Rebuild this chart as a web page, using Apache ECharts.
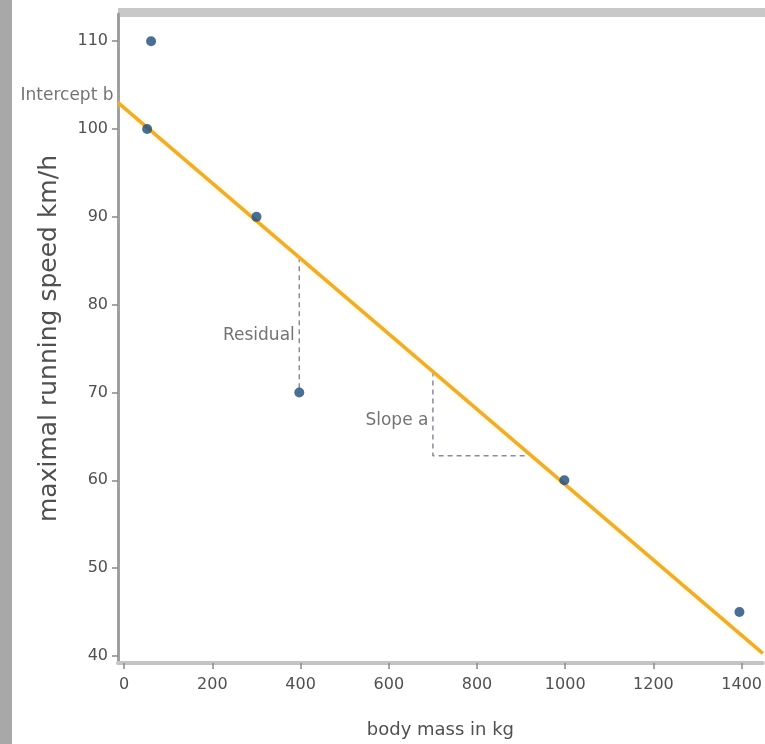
<!DOCTYPE html>
<html><head><meta charset="utf-8">
<script src="https://cdn.jsdelivr.net/npm/echarts@6/dist/echarts.min.js"></script>
<style>html,body{margin:0;padding:0;background:#fff}#c{width:765px;height:744px}</style>
</head><body><div id="c"></div>
<script>
const xTicks = [0, 200, 400, 600, 800, 1000, 1200, 1400];
const yTicks = [40, 50, 60, 70, 80, 90, 100, 110];
const points = [[61, 110], [52, 100], [300, 90], [397, 70], [998, 60], [1395, 45]];
const fitLine = [[-14, 103.0], [1448, 40.3]];
const residualLine = [[397, 85.4], [397, 70]];
const slopeLine = [[700, 72.4], [700, 62.8], [915, 62.8]];
const annotationNames = ['Intercept b', 'Residual', 'Slope a'];
const annotationPos = [[-14, 103.8], [397, 76.5], [700, 66.8]];

const font = 'DejaVu Sans';
const txt = '#505050';
const chart = echarts.init(document.getElementById('c'));
chart.setOption({
  animation: false,
  backgroundColor: '#fff',
  grid: { left: 118, right: 0, top: 14, bottom: 79, containLabel: false },
  graphic: [
    { type: 'rect', shape: { x: 0, y: 0, width: 12, height: 744 }, style: { fill: '#a8a8a8' } },
    { type: 'rect', shape: { x: 118, y: 8, width: 647, height: 9 }, style: { fill: '#c8c8c8' } }
  ],
  xAxis: {
    type: 'value', min: -14, max: 1448,
    name: 'body mass in kg', nameLocation: 'middle', nameGap: 58,
    nameTextStyle: { fontFamily: font, fontSize: 18, color: txt },
    axisLine: { show: true, onZero: false, lineStyle: { color: '#c4c4c4', width: 4 } },
    axisTick: { show: true, customValues: xTicks, length: 6, lineStyle: { color: '#888', width: 1.5 } },
    axisLabel: { customValues: xTicks, formatter: v => String(v), fontFamily: font, fontSize: 16, color: txt, margin: 14 },
    splitLine: { show: false }
  },
  yAxis: {
    type: 'value', min: 39.2, max: 113.1,
    name: 'maximal running speed km/h', nameLocation: 'middle', nameGap: 56,
    nameTextStyle: { fontFamily: font, fontSize: 25, color: txt },
    axisLine: { show: true, onZero: false, lineStyle: { color: '#a0a0a0', width: 3 } },
    axisTick: { show: true, customValues: yTicks, length: 6, lineStyle: { color: '#888', width: 1.5 } },
    axisLabel: { customValues: yTicks, formatter: v => String(v), fontFamily: font, fontSize: 16, color: txt, margin: 10 },
    splitLine: { show: false }
  },
  series: [
    {
      type: 'line', data: fitLine, symbol: 'none', z: 3,
      lineStyle: { color: '#e9ad3c', width: 3.5, shadowColor: 'rgba(255,230,80,0.6)', shadowBlur: 4 }
    },
    {
      type: 'line', data: residualLine, symbol: 'none', z: 2,
      lineStyle: { color: '#8a8a9a', width: 1.5, type: [5, 4] }
    },
    {
      type: 'line', data: slopeLine, symbol: 'none', z: 2,
      lineStyle: { color: '#8a8a9a', width: 1.5, type: [5, 4] }
    },
    {
      type: 'scatter', symbolSize: 1, z: 5, clip: false, silent: true,
      itemStyle: { color: 'rgba(0,0,0,0)' },
      data: annotationNames.map((n, i) => ({ name: n, value: annotationPos[i] })),
      label: { show: true, formatter: p => p.name, position: 'left', distance: 4, fontFamily: font, fontSize: 17, color: txt }
    },
    {
      type: 'scatter', data: points, symbol: 'circle', symbolSize: 10, z: 6,
      itemStyle: { color: '#1f4a78' }
    }
  ]
});
</script></body></html>
